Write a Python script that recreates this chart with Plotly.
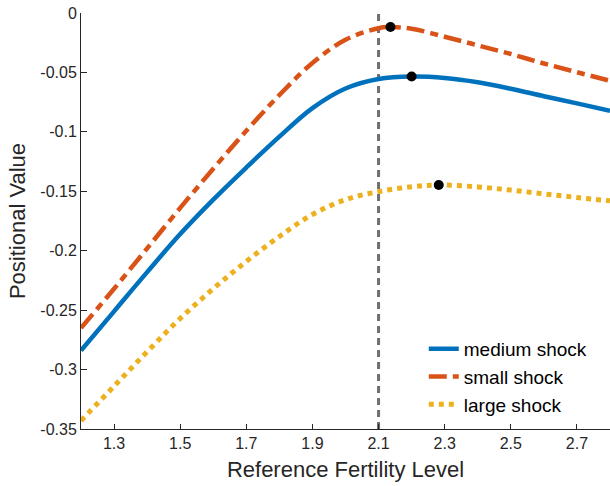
import plotly.graph_objects as go

# Reference fertility levels (x) and positional values (y)
x_medium = [1.2, 1.3, 1.4, 1.5, 1.6, 1.7, 1.8, 1.9, 2.0, 2.1, 2.2, 2.3, 2.4, 2.5, 2.6, 2.7, 2.8]
y_medium = [-0.284, -0.251, -0.218, -0.186, -0.157, -0.130, -0.104, -0.080, -0.0635, -0.0555, -0.0534,
            -0.0546, -0.0582, -0.0637, -0.0700, -0.0760, -0.0822]

x_small = [1.2, 1.3, 1.4, 1.5, 1.6, 1.7, 1.8, 1.9, 2.0, 2.1, 2.136, 2.2, 2.3, 2.4, 2.5, 2.6, 2.7, 2.8]
y_small = [-0.265, -0.232, -0.198, -0.164, -0.131, -0.099, -0.069, -0.042, -0.0225, -0.0128, -0.0118,
           -0.0132, -0.0200, -0.0272, -0.0345, -0.0425, -0.0498, -0.0570]

x_large = [1.2, 1.3, 1.4, 1.5, 1.6, 1.7, 1.8, 1.9, 2.0, 2.1, 2.2, 2.282, 2.4, 2.5, 2.6, 2.7, 2.8]
y_large = [-0.343, -0.314, -0.285, -0.257, -0.232, -0.209, -0.188, -0.1695, -0.157, -0.1503, -0.1462,
           -0.1447, -0.1463, -0.1490, -0.1522, -0.1552, -0.1580]

# maxima markers
peak_x = [2.136, 2.2, 2.282]
peak_y = [-0.0118, -0.0534, -0.1447]

ref_level = 2.1

x_ticks = [1.3, 1.5, 1.7, 1.9, 2.1, 2.3, 2.5, 2.7]
x_tick_text = ["1.3", "1.5", "1.7", "1.9", "2.1", "2.3", "2.5", "2.7"]
y_ticks = [0, -0.05, -0.1, -0.15, -0.2, -0.25, -0.3, -0.35]
y_tick_text = ["0", "-0.05", "-0.1", "-0.15", "-0.2", "-0.25", "-0.3", "-0.35"]

FONT = "Liberation Sans, Arial, sans-serif"
TXT = "#262626"

fig = go.Figure()

fig.add_trace(go.Scatter(x=[ref_level, ref_level], y=[-0.35, 0], mode="lines",
                         line=dict(color="#6f6f6f", width=3, dash="7px,5px"),
                         showlegend=False, hoverinfo="skip"))

fig.add_trace(go.Scatter(x=x_medium, y=y_medium, mode="lines", name="medium shock",
                         legendgroup="a", line=dict(color="#0072BD", width=4.5, shape="spline")))
fig.add_trace(go.Scatter(x=x_small, y=y_small, mode="lines", name="small shock",
                         legendgroup="b", line=dict(color="#D95319", width=4.5, shape="spline",
                                                    dash="18px,6px,8px,6px")))
fig.add_trace(go.Scatter(x=x_large, y=y_large, mode="lines", name="large shock",
                         legendgroup="c", line=dict(color="#EDB120", width=5, shape="spline",
                                                    dash="dot")))

fig.add_trace(go.Scatter(x=peak_x, y=peak_y, mode="markers",
                         marker=dict(color="black", size=10, symbol="circle"),
                         showlegend=False, hoverinfo="skip"))

fig.update_layout(
    width=610, height=486,
    margin=dict(l=81, r=0, t=13, b=57),
    plot_bgcolor="white", paper_bgcolor="white",
    font=dict(family=FONT, color=TXT, size=16),
    legend=dict(x=0.648, y=0.238, xanchor="left", yanchor="top",
                font=dict(size=19, family=FONT, color="black"),
                bgcolor="rgba(0,0,0,0)", tracegroupgap=3, traceorder="normal"),
    xaxis=dict(range=[1.2, 2.8], tickvals=x_ticks, ticktext=x_tick_text,
               ticks="inside", ticklen=5, tickcolor=TXT, showgrid=False, zeroline=False,
               showline=True, linecolor=TXT, linewidth=1,
               tickfont=dict(size=16, color=TXT),
               title=dict(text="Reference Fertility Level", font=dict(size=22, color=TXT), standoff=10)),
    yaxis=dict(range=[-0.35, 0], tickvals=y_ticks, ticktext=y_tick_text,
               ticks="inside", ticklen=6, tickcolor=TXT, showgrid=False, zeroline=False,
               showline=True, linecolor=TXT, linewidth=1,
               tickfont=dict(size=16, color=TXT),
               title=dict(text="Positional Value", font=dict(size=22, color=TXT), standoff=8)),
)

fig.write_html("out.html")
